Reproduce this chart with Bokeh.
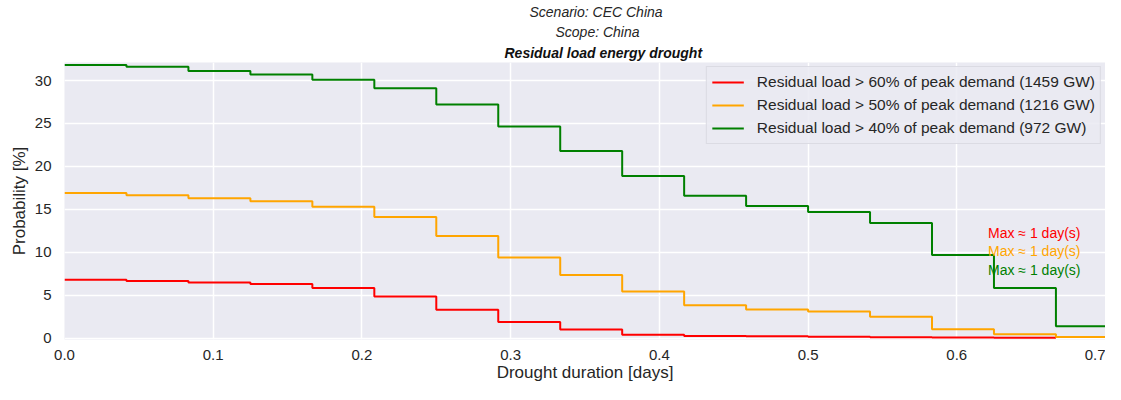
from bokeh.plotting import figure
from bokeh.models import Range1d, FixedTicker, PrintfTickFormatter, Title, Legend, LegendItem, ColumnDataSource
from bokeh.core.properties import value
from bokeh.embed import file_html
from bokeh.resources import INLINE

# ---- data ----
hours = list(range(0, 18))  # drought duration steps in hours
red_60 = [6.8, 6.65, 6.5, 6.3, 5.85, 4.85, 3.3, 1.9, 1.0, 0.4, 0.27, 0.23, 0.17, 0.11, 0.08, 0.06]
orange_50 = [16.9, 16.65, 16.3, 15.95, 15.3, 14.1, 11.9, 9.4, 7.35, 5.45, 3.85, 3.35, 3.1, 2.5, 1.05, 0.45, 0.15]
green_40 = [31.8, 31.6, 31.1, 30.7, 30.1, 29.1, 27.2, 24.65, 21.8, 18.9, 16.6, 15.4, 14.7, 13.4, 9.7, 5.85, 1.4]
series_labels = [
    "Residual load > 60% of peak demand (1459 GW)",
    "Residual load > 50% of peak demand (1216 GW)",
    "Residual load > 40% of peak demand (972 GW)",
]
series_colors = ["red", "orange", "green"]
max_texts = ["Max \u2248 1 day(s)", "Max \u2248 1 day(s)", "Max \u2248 1 day(s)"]
x_ticks = [0.0, 0.1, 0.2, 0.3, 0.4, 0.5, 0.6, 0.7]
y_ticks = [0, 5, 10, 15, 20, 25, 30]

FONT = "Liberation Sans"
TXT = "#262626"

p = figure(width=1105, height=384, output_backend="svg", toolbar_location=None,
           x_range=Range1d(0, 0.7), y_range=Range1d(-0.15, 32.1),
           min_border_left=64, min_border_right=0, min_border_bottom=0, min_border_top=0,
           title=None)
p.background_fill_color = "#EAEAF2"
p.border_fill_color = "white"
p.outline_line_color = None

for ax in (p.xaxis[0], p.yaxis[0]):
    ax.axis_line_color = None
    ax.major_tick_line_color = None
    ax.minor_tick_line_color = None
    ax.major_tick_out = 0
    ax.major_tick_in = 0
    ax.minor_tick_out = 0
    ax.minor_tick_in = 0
    ax.major_label_text_font = FONT
    ax.major_label_text_font_size = "15px"
    ax.major_label_text_color = TXT
    ax.axis_label_text_font = FONT
    ax.axis_label_text_font_size = "17px"
    ax.axis_label_text_font_style = "normal"
    ax.axis_label_text_color = TXT

p.xaxis.ticker = FixedTicker(ticks=x_ticks)
p.yaxis.ticker = FixedTicker(ticks=y_ticks)
p.xaxis.formatter = PrintfTickFormatter(format="%.1f")
p.yaxis.formatter = PrintfTickFormatter(format="%d")
p.xaxis.axis_label = "Drought duration [days]"
p.yaxis.axis_label = "Probability [%]"
p.xaxis.major_label_standoff = 10
p.xaxis.axis_label_standoff = 0
p.yaxis.major_label_standoff = 13
p.yaxis.axis_label_standoff = 3

p.grid.grid_line_color = "white"
p.grid.grid_line_width = 1.5

renderers = []
for vals, col in zip([red_60, orange_50, green_40], series_colors):
    xs = [h / 24 for h in hours[:len(vals) + 1]]
    ys = vals + [vals[-1]]
    r = p.step(xs, ys, mode="after", line_color=col, line_width=2)
    renderers.append(r)

src = ColumnDataSource(dict(x=[0.621, 0.621, 0.621], y=[12.3, 10.1, 7.9], t=max_texts, c=series_colors))
p.text(x="x", y="y", text="t", text_color="c", source=src, text_font=value(FONT),
       text_font_size="14px", text_baseline="middle", text_align="left")

legend = Legend(items=[LegendItem(label=l, renderers=[r]) for l, r in zip(series_labels, renderers)],
                location="top_right", margin=4, padding=5, spacing=3,
                glyph_width=32, glyph_height=20, label_height=20, label_standoff=13,
                label_text_font=FONT, label_text_font_size="15.5px", label_text_color=TXT,
                background_fill_color="#EAEAF2", background_fill_alpha=0.85,
                border_line_color="#CCCCD4", border_line_width=1)
p.add_layout(legend)

# titles: left-aligned with pixel offsets from the frame's left edge
for txt, style, col, so, off in [("Residual load energy drought", "bold italic", "#111111", 4, 440),
                                 ("Scope: China", "italic", TXT, 1, 491),
                                 ("Scenario: CEC China", "italic", TXT, 3, 465)]:
    p.add_layout(Title(text=txt, align="left", text_font=FONT, text_font_size="14px",
                       text_font_style=style, text_color=col, offset=off, standoff=so), "above")

open("out.html", "w").write(file_html(p, INLINE))
